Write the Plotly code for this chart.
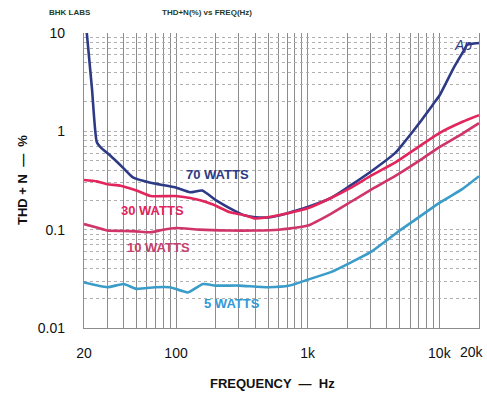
import math
import plotly.graph_objects as go

# ---- data ----
f70 = [21, 23, 25, 27, 31.5, 40, 47, 64, 98, 128, 158, 200, 257, 330, 400, 500, 617, 800, 1000, 1500, 2100, 3100, 4600, 5000, 7000, 9000, 10000, 12700, 15000, 16300, 18000, 20000]
v70 = [10, 2.7, 0.78, 0.68, 0.57, 0.42, 0.34, 0.30, 0.27, 0.24, 0.25, 0.20, 0.165, 0.14, 0.134, 0.133, 0.14, 0.155, 0.17, 0.21, 0.28, 0.40, 0.60, 0.68, 1.2, 1.9, 2.3, 4.3, 6.3, 7.6, 7.8, 7.9]

f30 = [20, 25, 30, 38, 50, 64, 98, 128, 150, 191, 257, 334, 400, 600, 1000, 1500, 2100, 3100, 4600, 7000, 10000, 15000, 20000]
v30 = [0.32, 0.31, 0.29, 0.28, 0.25, 0.22, 0.22, 0.21, 0.20, 0.18, 0.15, 0.14, 0.13, 0.14, 0.165, 0.21, 0.265, 0.36, 0.48, 0.70, 0.96, 1.25, 1.46]

f10 = [20, 25, 30, 40, 50, 64, 80, 100, 150, 250, 400, 600, 1000, 1500, 2100, 3100, 4600, 7000, 10000, 15000, 20000]
v10 = [0.114, 0.105, 0.098, 0.097, 0.096, 0.094, 0.100, 0.104, 0.100, 0.098, 0.098, 0.100, 0.11, 0.145, 0.19, 0.26, 0.35, 0.50, 0.69, 0.95, 1.21]

f5 = [20, 30, 40, 50, 69, 90, 123, 160, 200, 300, 500, 730, 1000, 1500, 2100, 3000, 5000, 7000, 10000, 15000, 20000]
v5 = [0.029, 0.026, 0.028, 0.025, 0.026, 0.026, 0.023, 0.028, 0.027, 0.027, 0.026, 0.027, 0.031, 0.037, 0.046, 0.059, 0.098, 0.134, 0.187, 0.26, 0.35]

x_grid = [20, 30, 40, 50, 60, 70, 80, 90, 100, 200, 300, 400, 500, 600, 700, 800, 900,
          1000, 2000, 3000, 4000, 5000, 6000, 7000, 8000, 9000, 10000, 20000]
x_labels = {20: "20", 100: "100", 1000: "1k", 10000: "10k"}
edge_label = "20k"
y_grid = [m * d for d in (0.01, 0.1, 1) for m in range(1, 10)] + [10]
y_labels = {0.01: "0.01", 0.1: "0.1", 1: "1", 10: "10"}

series = [
    ("70 WATTS", f70, v70, "#2d3b86"),
    ("30 WATTS", f30, v30, "#e2265c"),
    ("10 WATTS", f10, v10, "#cf3568"),
    ("5 WATTS", f5, v5, "#3a9cc8"),
]
label_pos = {
    "70 WATTS": (208, 0.36, "#2d3b86"),
    "30 WATTS": (66, 0.155, "#e2265c"),
    "10 WATTS": (73, 0.0665, "#c8406c"),
    "5 WATTS": (267, 0.0179, "#3399d6"),
}

fig = go.Figure()
for name, fx, vy, col in series:
    fig.add_trace(go.Scatter(x=fx, y=vy, mode="lines", name=name,
                             line=dict(color=col, width=2.6, shape="spline", smoothing=0.5),
                             showlegend=False))

for name, (lx, ly, col) in label_pos.items():
    fig.add_annotation(x=math.log10(lx), y=math.log10(ly),
                       text=name, showarrow=False,
                       font=dict(family="Liberation Sans", size=13, color=col, weight="bold"))

tickfont = dict(family="Liberation Sans", size=14, color="#111")
fig.update_xaxes(type="log", range=[1.30103, 4.30103],
                 tickvals=x_grid, ticktext=[x_labels.get(v, "") for v in x_grid],
                 showgrid=True, gridcolor="#8c8c8c", gridwidth=1.4,
                 ticks="", ticklabelstandoff=12, tickfont=tickfont,
                 showline=True, linecolor="#8c8c8c", linewidth=1.2, mirror=False,
                 zeroline=False)
fig.update_yaxes(type="log", range=[-2, 1],
                 tickvals=y_grid, ticktext=[y_labels.get(round(v, 4), "") for v in y_grid],
                 showgrid=True, gridcolor="#b0b0b0", gridwidth=1, griddash="dot",
                 ticks="", ticklabelstandoff=15, tickfont=tickfont,
                 showline=True, linecolor="#8c8c8c", linewidth=1.4, mirror=True,
                 zeroline=False)

# 20k tick label sits at the right edge of the picture
fig.add_annotation(xref="paper", yref="paper", x=(486 - 84) / 395, y=-(352 - 328) / 295,
                   xanchor="right", yanchor="middle", text=edge_label, showarrow=False,
                   font=tickfont)

# header and axis titles
hdr = dict(family="Liberation Sans", size=8, color="#1f3d2a", weight="bold")
fig.add_annotation(xref="paper", yref="paper", x=(47 - 84) / 395, y=1 + 20 / 295,
                   xanchor="left", yanchor="middle", text="BHK LABS", showarrow=False, font=hdr)
fig.add_annotation(xref="paper", yref="paper", x=(160 - 84) / 395, y=1 + 20 / 295,
                   xanchor="left", yanchor="middle", text="THD+N(%) vs FREQ(Hz)", showarrow=False, font=hdr)
fig.add_annotation(xref="paper", yref="paper", x=(463 - 84) / 395, y=1 - 12 / 295,
                   xanchor="center", yanchor="middle", text="Ap", showarrow=False,
                   font=dict(family="Liberation Sans", size=14, color="#2d3b86", style="italic"))
fig.add_annotation(xref="paper", yref="paper", x=(272 - 84) / 395, y=-(383 - 328) / 295,
                   xanchor="center", yanchor="middle", text="FREQUENCY  —  Hz", showarrow=False,
                   font=dict(family="Liberation Sans", size=13, color="#111", weight="bold"))
fig.add_annotation(xref="paper", yref="paper", x=(22 - 84) / 395, y=(328 - 180) / 295,
                   xanchor="center", yanchor="middle", text="THD + N  —  %", showarrow=False,
                   textangle=-90,
                   font=dict(family="Liberation Sans", size=13, color="#111", weight="bold"))

fig.update_layout(width=487, height=393, margin=dict(l=84, r=8, t=33, b=65),
                  plot_bgcolor="white", paper_bgcolor="white")

fig.write_html("out.html")
